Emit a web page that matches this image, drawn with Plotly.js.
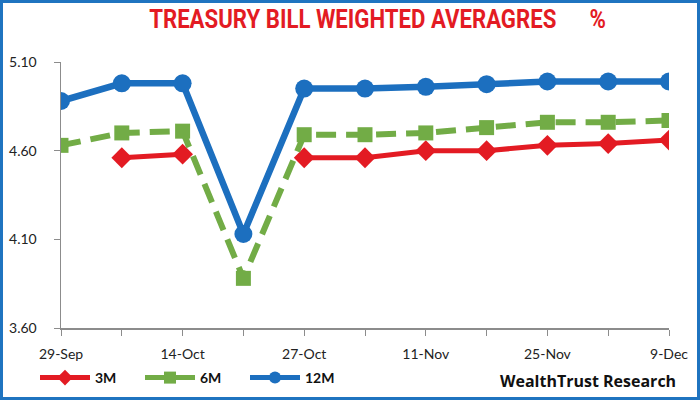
<!DOCTYPE html>
<html>
<head>
<meta charset="utf-8">
<script src="https://cdn.plot.ly/plotly-3.0.1.min.js"></script>
<style>
  html, body { margin: 0; padding: 0; background: #fff; }
  #wrap { position: relative; width: 700px; height: 400px; }
  #chart { width: 700px; height: 400px; }
  #frame { position: absolute; left: 0; top: 0; width: 700px; height: 400px; box-sizing: border-box;
           border: 3px solid #1f74c0; pointer-events: none; }
</style>
</head>
<body>
<div id="wrap"><div id="chart"></div><div id="frame"></div></div>
<script>
// ---- DATA ----
const categories = ['29-Sep','6-Oct','14-Oct','21-Oct','27-Oct','3-Nov','11-Nov','18-Nov','25-Nov','2-Dec','9-Dec'];
const tickLabels = ['29-Sep','','14-Oct','','27-Oct','','11-Nov','','25-Nov','','9-Dec'];
const series3M  = [null, 4.56, 4.58, null, 4.56, 4.56, 4.60, 4.60, 4.63, 4.64, 4.66];
const series6M  = [4.63, 4.70, 4.71, 3.88, 4.69, 4.69, 4.70, 4.73, 4.76, 4.76, 4.77];
const series12M = [4.88, 4.98, 4.98, 4.13, 4.95, 4.95, 4.96, 4.975, 4.99, 4.99, 4.99];
const yTicks = [3.60, 4.10, 4.60, 5.10];

const red = '#e31b23', green = '#72ac46', blue = '#1c6fbf';
const labelFont = 'Lato, "Open Sans", sans-serif';

const traces = [
  { x: categories, y: series3M, name: '3M', type: 'scatter', mode: 'lines+markers', connectgaps: false,
    line: { color: red, width: 5 }, marker: { symbol: 'diamond', size: 16, color: red } },
  { x: categories, y: series6M, name: '6M', type: 'scatter', mode: 'lines+markers',
    line: { color: green, width: 6, dash: '20px,10px' }, marker: { symbol: 'square', size: 15, color: green } },
  { x: categories, y: series12M, name: '12M', type: 'scatter', mode: 'lines+markers',
    line: { color: blue, width: 6.5 }, marker: { symbol: 'circle', size: 18, color: blue } }
];

const layout = {
  width: 700, height: 400,
  margin: { l: 61, r: 31, t: 62, b: 71.5, pad: 0 },
  paper_bgcolor: '#fff', plot_bgcolor: '#fff',
  title: {
    text: 'TREASURY BILL WEIGHTED AVERAGRES\u00A0\u00A0\u00A0\u00A0\u00A0\u00A0%',
    font: { family: 'Roboto, "Open Sans", sans-serif', size: 26, color: red, weight: 'bold' },
    x: 377 / 700, xanchor: 'center', xref: 'paper', y: 1 - 19 / 400, yanchor: 'middle', yref: 'container'
  },
  xaxis: {
    type: 'category', range: [0, 10], showgrid: false, zeroline: false,
    showline: true, linecolor: '#8c8c8c', linewidth: 1.5,
    ticks: 'outside', ticklen: 6, tickcolor: '#8c8c8c', tickwidth: 1,
    tickvals: categories, ticktext: tickLabels, tickangle: 0,
    ticklabelstandoff: 7,
    tickfont: { family: labelFont, size: 14, color: '#222' }
  },
  yaxis: {
    range: [3.6, 5.1], showgrid: false, zeroline: false,
    showline: true, linecolor: '#8c8c8c', linewidth: 1.5,
    ticks: 'outside', ticklen: 6, tickcolor: '#8c8c8c', tickwidth: 1,
    tickvals: yTicks, tickformat: '.2f', ticklabelstandoff: 14,
    tickfont: { family: labelFont, size: 14, color: '#222' }
  },
  showlegend: true,
  legend: {
    orientation: 'h', xref: 'container', yref: 'container',
    x: 35 / 700, xanchor: 'left', y: 1 - 378 / 400, yanchor: 'middle',
    itemwidth: 50, itemsizing: 'constant', entrywidth: 40, entrywidthmode: 'pixels', tracegroupgap: 0,
    font: { family: labelFont, size: 14, color: '#111', weight: 'bold' },
    bgcolor: 'rgba(0,0,0,0)'
  },
  annotations: [{
    text: 'WealthTrust Research', showarrow: false,
    xref: 'paper', yref: 'paper', x: (678 - 61) / 608, xanchor: 'right',
    y: (328.5 - 382) / 266.5, yanchor: 'middle',
    font: { family: '"Open Sans", sans-serif', size: 16, color: '#111', weight: 'bold' }
  }]
};

Plotly.newPlot('chart', traces, layout, { displayModeBar: false, staticPlot: true }).then(function (gd) {
  // condense the title horizontally to mimic the narrow bold face of the original
  const g = gd.querySelector('.g-gtitle');
  if (g) {
    const bb = g.getBBox();
    const left = 149, right = 606;
    const s = (right - left) / bb.width;
    g.setAttribute('transform', 'translate(' + (left - bb.x * s) + ',0) scale(' + s + ',1)');
  }
});
</script>
</body>
</html>
